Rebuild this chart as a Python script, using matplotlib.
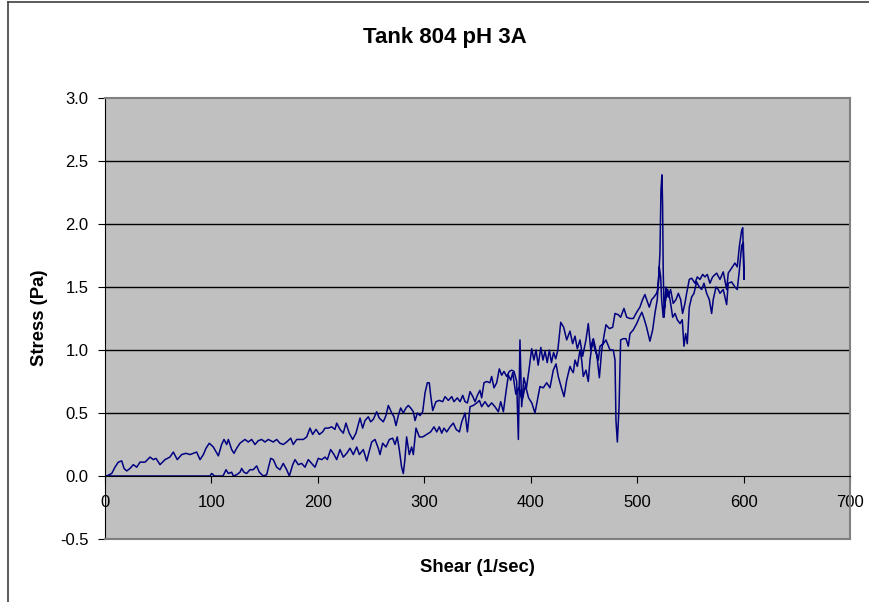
import numpy as np
import matplotlib
matplotlib.use("Agg")
import matplotlib.pyplot as plt
from matplotlib.lines import Line2D

plt.rcParams['font.family'] = ['Liberation Sans', 'DejaVu Sans']

# region Data
# ramp up, 0 -> 600 1/sec
up_shear = [0, 1.6, 6.3, 9.4, 12.5, 15.7, 17.9, 20.4, 23.5, 26.6, 29.8, 32.9, 37.6, 42.3, 45.4, 47.9,
            51.7, 56.4, 61, 64.2, 67.9, 72, 76.1, 79.9, 83, 86.1, 89.3, 92.4, 94.9, 98, 101.8, 106.5,
            109.6, 111.8, 114.3, 115.9, 119, 121.2, 123.7, 126.8, 131.5, 134.6, 137.8, 140.9, 144,
            147.2, 150.3, 153.4, 158.1, 161.3, 164.4, 167.5, 170.7, 174.5, 176.9, 180.1, 183.2, 186.3,
            189.5, 192.6, 195.1, 198.3, 201.4, 204.5, 206.7, 209.8, 213, 216.1, 217.7, 220.8, 223.9,
            226.4, 229.5, 232.7, 235.8, 239.6, 242.1, 244.3, 247.4, 249.6, 252.1, 255.3, 257.7, 261.5,
            264, 266.2, 269.4, 271.5, 273.4, 275.6, 277.8, 280.3, 282.8, 285, 287.2, 289.7, 291.3,
            293.5, 296, 298.5, 300.7, 302.9, 304.7, 306, 307.9, 311, 314.1, 317.3, 319.5, 322.6, 325.8,
            327.9, 331, 333.6, 336.1, 338.3, 340.5, 343, 345.6, 347.7, 349.9, 352.3, 353.9, 356.1,
            358.6, 361.7, 363.3, 365.5, 368, 370.5, 372.7, 374.9, 377.4, 379.9, 382.1, 384.3, 386.8,
            388.4, 389.9, 391.5, 393.5, 396, 398.5, 400.9, 403, 405, 407, 409.5, 411.5, 413.5, 415.5,
            417.5, 419.5, 421.5, 423.5, 425.5, 428.2, 431, 433.8, 436.9, 439.4, 441.6, 443.8, 446.3,
            448.8, 451.9, 454.1, 456.4, 458.9, 462, 464.5, 466.7, 468.8, 470.7, 473.9, 477, 479.2,
            482.3, 484.5, 487.6, 490.2, 493.3, 496.4, 499.6, 502.6, 505.1, 507.3, 508.9, 511.4, 513.6,
            515.8, 518.3, 519.8, 521.4, 522.4, 523.3, 523.9, 524.5, 525.4, 527, 529.2, 531.4, 533.9,
            536.5, 538.7, 540.9, 542.7, 544.9, 546.5, 549, 551.2, 554.3, 556.5, 559, 561.6, 563.7,
            565.9, 568.4, 570.9, 574.7, 577.8, 580.9, 584.1, 585.6, 588.8, 591.9, 594.1, 596, 598.2,
            599.2, 600.4]
up_stress = [0, 0, 0.02, 0.07, 0.11, 0.12, 0.06, 0.04, 0.06, 0.09, 0.07, 0.11, 0.11, 0.15, 0.13, 0.14,
             0.09, 0.13, 0.15, 0.19, 0.13, 0.17, 0.18, 0.17, 0.18, 0.19, 0.13, 0.17, 0.22, 0.26, 0.23,
             0.16, 0.25, 0.29, 0.25, 0.29, 0.21, 0.18, 0.22, 0.26, 0.29, 0.27, 0.29, 0.25, 0.28, 0.29,
             0.27, 0.29, 0.27, 0.29, 0.26, 0.25, 0.27, 0.30, 0.25, 0.29, 0.29, 0.29, 0.31, 0.38, 0.33,
             0.37, 0.33, 0.35, 0.38, 0.38, 0.39, 0.37, 0.42, 0.37, 0.34, 0.42, 0.34, 0.29, 0.34, 0.46,
             0.38, 0.44, 0.47, 0.43, 0.45, 0.51, 0.46, 0.43, 0.48, 0.56, 0.50, 0.47, 0.40, 0.48, 0.54,
             0.50, 0.54, 0.56, 0.54, 0.51, 0.44, 0.50, 0.48, 0.51, 0.66, 0.74, 0.74, 0.64, 0.52, 0.59,
             0.60, 0.59, 0.63, 0.60, 0.63, 0.59, 0.62, 0.59, 0.64, 0.59, 0.58, 0.67, 0.63, 0.59, 0.64,
             0.68, 0.62, 0.74, 0.75, 0.74, 0.79, 0.70, 0.74, 0.85, 0.80, 0.83, 0.79, 0.83, 0.84, 0.83,
             0.75, 0.29, 1.08, 0.55, 0.78, 0.70, 0.85, 1.01, 0.92, 1.00, 0.88, 1.02, 0.92, 0.99, 0.90,
             1.00, 0.90, 0.98, 0.93, 1.00, 1.22, 1.18, 1.08, 1.15, 1.05, 1.11, 1.01, 1.08, 0.95, 1.08,
             1.21, 1.00, 1.09, 0.97, 0.78, 1.00, 1.11, 1.20, 1.17, 1.18, 1.29, 1.28, 1.26, 1.33, 1.26,
             1.25, 1.25, 1.30, 1.34, 1.40, 1.44, 1.40, 1.34, 1.40, 1.42, 1.45, 1.50, 1.77, 2.27, 2.39,
             2.16, 1.63, 1.26, 1.50, 1.42, 1.48, 1.37, 1.40, 1.45, 1.40, 1.29, 1.37, 1.45, 1.56, 1.57,
             1.53, 1.58, 1.56, 1.60, 1.58, 1.60, 1.53, 1.58, 1.61, 1.56, 1.62, 1.48, 1.61, 1.65, 1.69,
             1.66, 1.82, 1.95, 1.97, 1.56]

# ramp down, 600 -> 0 1/sec
down_shear = [599.8, 598.2, 596, 594.1, 591.9, 588.8, 585.6, 584.1, 580.9, 577.8, 576.2, 574.1, 571.5,
              570, 567.8, 565.3, 562.8, 560.6, 558.4, 555.9, 553.4, 551.2, 549, 547.1, 545.6, 544,
              542.4, 540.3, 537.7, 535.6, 533.4, 530.9, 528.7, 526.2, 524.5, 523, 522.1, 520.8, 518.9,
              516.7, 514.6, 512, 508.9, 506.5, 504.4, 502.1, 499.6, 496.4, 493.3, 491.7, 489.5, 487,
              484.5, 483, 481.4, 480.1, 479.2, 477.6, 474.5, 470.7, 468.2, 465.1, 463.5, 460.4, 458.2,
              455.7, 454.1, 451.9, 449.4, 447.9, 446.3, 443.8, 441.6, 440, 438.5, 436.9, 433.8, 431.3,
              428.5, 425.9, 423.8, 421.2, 418.1, 415, 411.8, 408.7, 404, 401, 398, 395, 392, 389, 386,
              383.1, 381.2, 379, 376.8, 374.3, 371.8, 369.6, 366.4, 363.3, 360.2, 357, 353.9, 351.8,
              349.3, 346.1, 343, 340.5, 338.3, 335.2, 333, 329.9, 327.3, 324.2, 321.1, 318.5, 316.4,
              314.1, 311.7, 309.1, 306, 302.3, 298.5, 295.4, 292.2, 289.7, 288.1, 285.9, 283.4, 281.8,
              280.3, 278.7, 276.5, 274.6, 272.5, 270.3, 267.2, 264, 260.9, 258.4, 256.8, 253.7, 250.6,
              245.9, 242.7, 239, 236.5, 233.3, 230.2, 227.1, 223.9, 220.8, 217.7, 215.2, 212, 208.9,
              206.7, 203.6, 200.4, 197.3, 194.2, 191, 187.9, 184.8, 181.6, 178.5, 176.4, 173.2, 170.7,
              167.5, 164.4, 161.3, 158.1, 155.7, 151.9, 148.7, 145, 142.5, 139.3, 136.2, 133.1, 130.6,
              128.4, 126.8, 123.7, 120.6, 119, 115.9, 113.7, 110.9, 103, 100.2, 98.7, 0]
down_stress = [1.85, 1.83, 1.63, 1.48, 1.50, 1.54, 1.53, 1.36, 1.48, 1.45, 1.48, 1.50, 1.40, 1.29, 1.40,
               1.45, 1.53, 1.48, 1.50, 1.54, 1.45, 1.42, 1.34, 1.05, 1.13, 1.03, 1.24, 1.21, 1.24, 1.29,
               1.26, 1.40, 1.48, 1.37, 1.26, 1.40, 1.58, 1.66, 1.40, 1.29, 1.16, 1.07, 1.18, 1.25, 1.30,
               1.26, 1.21, 1.16, 1.13, 1.03, 1.09, 1.09, 1.08, 0.55, 0.27, 0.44, 0.92, 1.00, 1.00, 1.08,
               1.05, 1.03, 0.92, 1.00, 1.08, 0.92, 0.75, 0.84, 0.79, 0.92, 1.00, 0.87, 0.92, 0.82, 0.84,
               0.87, 0.76, 0.63, 0.71, 0.79, 0.89, 0.84, 0.70, 0.74, 0.70, 0.71, 0.50, 0.58, 0.62, 0.72,
               0.60, 0.70, 0.65, 0.82, 0.76, 0.80, 0.67, 0.51, 0.59, 0.51, 0.55, 0.58, 0.55, 0.59, 0.55,
               0.60, 0.58, 0.56, 0.55, 0.35, 0.50, 0.43, 0.35, 0.37, 0.42, 0.39, 0.35, 0.38, 0.34, 0.39,
               0.35, 0.39, 0.35, 0.33, 0.31, 0.31, 0.38, 0.17, 0.23, 0.17, 0.31, 0.13, 0.02, 0.07, 0.21,
               0.31, 0.25, 0.30, 0.29, 0.23, 0.26, 0.17, 0.22, 0.29, 0.27, 0.12, 0.21, 0.17, 0.23, 0.17,
               0.22, 0.18, 0.15, 0.21, 0.13, 0.17, 0.21, 0.13, 0.15, 0.13, 0.14, 0.07, 0.10, 0.13, 0.07,
               0.10, 0.09, 0.13, 0.09, 0.00, 0.05, 0.10, 0.05, 0.07, 0.13, 0.14, 0.01, 0.00, 0.03, 0.08,
               0.05, 0.05, 0.02, 0.03, 0.06, 0.03, 0.01, 0.00, 0.03, 0.02, 0.05, 0.00, 0.00, 0.02, 0.00,
               0.00]

x_ticks = [0, 100, 200, 300, 400, 500, 600, 700]
y_ticks = [-0.5, 0.0, 0.5, 1.0, 1.5, 2.0, 2.5, 3.0]
# endregion

shear = np.concatenate([up_shear, down_shear])
stress = np.concatenate([up_stress, down_stress])

fig = plt.figure(figsize=(8.7, 6.02), dpi=100)
ax = fig.add_axes([105 / 870, 1 - 539 / 602, 745 / 870, 441 / 602])
ax.set_facecolor("#C0C0C0")

ax.plot(shear, stress, color="#000080", lw=1.1)

ax.set_xlim(0, 700)
ax.set_ylim(-0.5, 3.0)
ax.set_xticks(x_ticks)
ax.set_yticks(y_ticks)
ax.set_yticklabels([f"{v:.1f}" for v in y_ticks])

for v in y_ticks[2:-1]:
    ax.axhline(v, color="black", lw=1.0, zorder=1)

for side in ("top", "right"):
    ax.spines[side].set_color("#808080")
    ax.spines[side].set_linewidth(1.5)
ax.spines["bottom"].set_position(("data", 0))
ax.spines["bottom"].set_color("black")
ax.spines["left"].set_color("black")
ax.axhline(-0.5, color="#808080", lw=1.5, clip_on=False, zorder=3)

ax.tick_params(axis="x", direction="out", length=5, pad=9, labelsize=12, color="black")
ax.tick_params(axis="y", direction="out", length=5, pad=7, labelsize=12, color="black")

fig.text(445 / 870, 1 - 37 / 602, "Tank 804 pH 3A", fontsize=16, fontweight="bold",
         ha="center", va="center")
fig.text(477 / 870, 1 - 568 / 602, "Shear (1/sec)", fontsize=13.3, fontweight="bold",
         ha="center", va="center")
fig.text(40 / 870, 1 - 318 / 602, "Stress (Pa)", fontsize=13.3, fontweight="bold",
         ha="center", va="center", rotation=90)

# chart area border (left and top edges show in the reference)
fig.add_artist(Line2D([8 / 870, 8 / 870], [0, 1 - 2 / 602], color="#404040", lw=1.2))
fig.add_artist(Line2D([8 / 870, 1], [1 - 2 / 602, 1 - 2 / 602], color="#404040", lw=1.2))

fig.savefig("out.png", dpi=100)
